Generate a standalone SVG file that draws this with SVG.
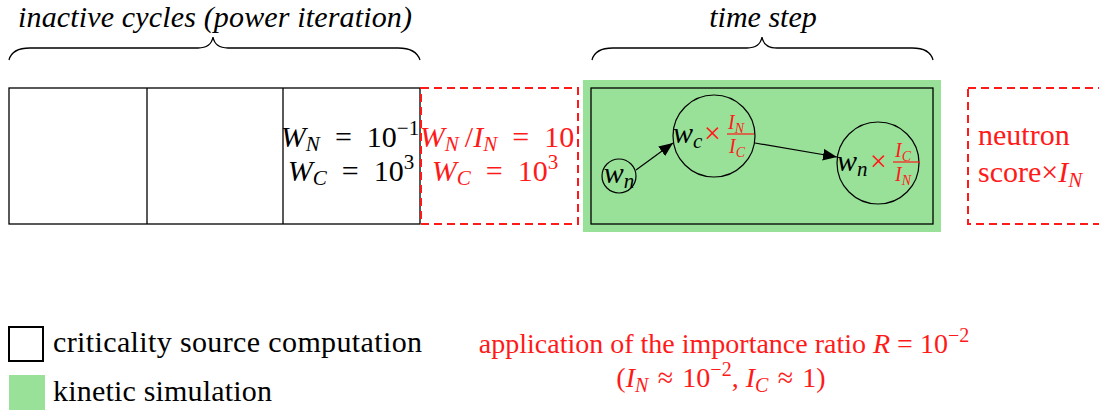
<svg xmlns="http://www.w3.org/2000/svg" width="1099" height="412" viewBox="0 0 1099 412">
<style>
text{font-family:"Liberation Serif","DejaVu Serif",serif;fill:#000}
.t{font-size:30px}
.b{font-size:28px}
.it{font-style:italic}
.r{fill:#ff1a1a}
.s{font-size:21px}
.sb{font-size:20px}
.f{font-size:20px}
.ff{font-size:14px}
.box{fill:none;stroke:#000;stroke-width:1.3}
.dash{fill:none;stroke:#ff1a1a;stroke-width:2;stroke-dasharray:8,5}
.brace{fill:none;stroke:#000;stroke-width:1.3}
.conn{stroke:#000;stroke-width:1.2;fill:none}
.circ{fill:none;stroke:#000;stroke-width:1.2}
.frac{stroke:#ff1a1a;stroke-width:1.2}
</style>
<defs>
<marker id="ah" viewBox="0 0 12 10" refX="12" refY="5" markerWidth="14" markerHeight="12" markerUnits="userSpaceOnUse" orient="auto"><path d="M0,0 L12,5 L0,10 z" fill="#000"/></marker>
</defs>

<g id="brace-inactive">
<path class="brace" d="M9,60 Q12,48 30,48 L198,48 Q211,48 213,37 Q215,48 228,48 L398,48 Q416,48 420,60"/>
<text class="t it" x="215" y="27" text-anchor="middle" textLength="394" lengthAdjust="spacing">inactive cycles (power iteration)</text>
</g>
<g id="brace-timestep">
<path class="brace" d="M592,60 Q595,48 613,48 L747,48 Q760,48 762,37 Q764,48 777,48 L912,48 Q930,48 933,60"/>
<text class="t it" x="763" y="27" text-anchor="middle">time step</text>
</g>

<g id="inactive-cycles">
<rect class="box" x="9" y="88" width="411" height="136"/>
<line class="box" x1="147" y1="88" x2="147" y2="224"/>
<line class="box" x1="283" y1="88" x2="283" y2="224"/>
<text class="t" x="350" y="147" text-anchor="middle"><tspan class="it">W</tspan><tspan class="s it" dy="4">N</tspan><tspan dy="-4">&#8194;=&#8194;10</tspan><tspan class="s" dy="-12">−1</tspan></text>
<text class="t" x="351" y="181" text-anchor="middle"><tspan class="it">W</tspan><tspan class="s it" dy="4">C</tspan><tspan dy="-4">&#8194;=&#8194;10</tspan><tspan class="s" dy="-12">3</tspan></text>
</g>

<g id="importance-box">
<rect class="dash" x="421" y="88" width="157" height="136"/>
<text class="t r" x="497" y="147" text-anchor="middle"><tspan class="it">W</tspan><tspan class="s it" dy="4">N</tspan><tspan dy="-4">&#8201;/</tspan><tspan class="it">I</tspan><tspan class="s it" dy="4">N</tspan><tspan dy="-4">&#8194;=&#8194;10</tspan></text>
<text class="t r" x="495" y="181" text-anchor="middle"><tspan class="it">W</tspan><tspan class="s it" dy="4">C</tspan><tspan dy="-4">&#8194;=&#8194;10</tspan><tspan class="s" dy="-12">3</tspan></text>
</g>

<g id="time-step">
<rect x="583" y="80" width="358" height="152" fill="#99e199"/>
<rect class="box" x="591" y="88" width="342" height="136"/>
</g>

<g id="node-wn1">
<circle class="circ" cx="619" cy="176" r="17"/>
<text class="t it" x="619" y="183" text-anchor="middle">w<tspan class="s" dy="5">n</tspan></text>
</g>

<g id="node-wc">
<circle class="circ" cx="714" cy="136" r="41"/>
<text class="t it" x="673" y="143">w<tspan class="s" dy="5">c</tspan></text>
<text class="t r" x="704" y="143">×</text>
<text class="f r it" x="728" y="129">I<tspan class="ff" dy="4">N</tspan></text>
<line class="frac" x1="727" y1="134" x2="754" y2="134"/>
<text class="f r it" x="729" y="153">I<tspan class="ff" dy="4">C</tspan></text>
</g>

<g id="node-wn2">
<circle class="circ" cx="878" cy="163" r="41"/>
<text class="t it" x="837" y="171">w<tspan class="s" dy="5">n</tspan></text>
<text class="t r" x="870" y="171">×</text>
<text class="f r it" x="895" y="157">I<tspan class="ff" dy="4">C</tspan></text>
<line class="frac" x1="893" y1="162" x2="920" y2="162"/>
<text class="f r it" x="895" y="181">I<tspan class="ff" dy="4">N</tspan></text>
</g>

<g id="connectors">
<line class="conn" x1="636" y1="170" x2="673" y2="143" marker-end="url(#ah)"/>
<line class="conn" x1="755" y1="143" x2="837" y2="157" marker-end="url(#ah)"/>
</g>

<g id="score-box">
<rect class="dash" x="968" y="88" width="200" height="136"/>
<text class="t r" x="978" y="145">neutron</text>
<text class="t r" x="978" y="182">score×<tspan class="it">I</tspan><tspan class="s it" dy="5">N</tspan></text>
</g>

<g id="legend">
<rect x="9" y="327" width="34" height="34" fill="none" stroke="#000" stroke-width="2"/>
<text class="t" x="53" y="352" textLength="369" lengthAdjust="spacing">criticality source computation</text>
<rect x="9" y="375" width="36" height="35" fill="#99e199"/>
<text class="t" x="53" y="401" textLength="219" lengthAdjust="spacing">kinetic simulation</text>
</g>

<g id="note">
<text class="b r" x="724" y="353" text-anchor="middle">application of the importance ratio <tspan class="it">R</tspan> = 10<tspan class="sb" dy="-11">−2</tspan></text>
<text class="b r" x="721" y="387" text-anchor="middle">(<tspan class="it">I</tspan><tspan class="sb it" dy="5">N</tspan><tspan dy="-5">&#8196;≈&#8196;10</tspan><tspan class="sb" dy="-11">−2</tspan><tspan dy="11">, </tspan><tspan class="it">I</tspan><tspan class="sb it" dy="5">C</tspan><tspan dy="-5">&#8196;≈&#8196;1)</tspan></text>
</g>
</svg>
